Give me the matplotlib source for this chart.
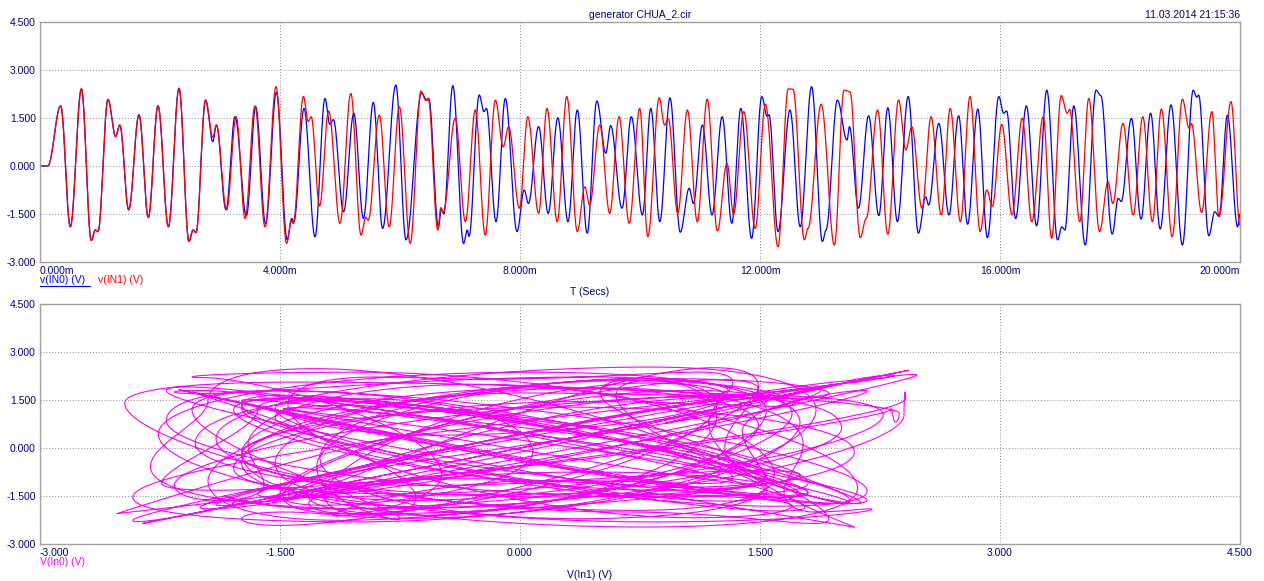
import numpy as np
import matplotlib
matplotlib.use("Agg")
import matplotlib.pyplot as plt

# ---------------------------------------------------------------------------
# Turning points of the two node voltages (time in ms, voltage in V).
# Both nodes follow the same path until ~2.76 ms, then split apart.
# ---------------------------------------------------------------------------
start_t = [0.0, 0.13, 0.345, 0.505, 0.69, 0.855, 0.92, 0.967, 1.133, 1.26,
           1.33, 1.478, 1.65, 1.805, 1.967, 2.14, 2.317, 2.483, 2.55, 2.60, 2.76]
start_v = [0.0, 0.0, 1.88, -1.90, 2.41, -2.33, -2.00, -2.05, 2.08, 0.92,
           1.28, -1.37, 1.60, -1.61, 1.88, -1.90, 2.43, -2.36, -2.00, -2.08, 2.06]

in0_t = [2.88, 2.94, 3.10, 3.25, 3.44, 3.595, 3.76, 3.94, 4.12, 4.195, 4.23,
         4.40, 4.583, 4.75, 4.83, 4.89, 5.06, 5.23, 5.39, 5.555, 5.71, 5.93,
         6.10, 6.36, 6.45, 6.48, 6.64, 6.69, 6.73, 6.88, 7.06, 7.12, 7.15,
         7.32, 7.40, 7.44, 7.60, 7.755, 7.95, 8.07, 8.14, 8.31, 8.47, 8.63,
         8.80, 8.955, 9.12, 9.28, 9.43, 9.51, 9.70, 9.855, 10.04, 10.18,
         10.33, 10.50, 10.67, 10.82, 10.89, 11.04, 11.20, 11.37, 11.53, 11.68,
         11.86, 12.03, 12.12, 12.15, 12.30, 12.50, 12.67, 12.86, 13.04, 13.10,
         13.29, 13.45, 13.49, 13.64, 13.81, 13.98, 14.13, 14.29, 14.47, 14.64,
         14.76, 14.81, 14.98, 15.15, 15.31, 15.46, 15.63, 15.79, 15.98, 16.06,
         16.11, 16.26, 16.44, 16.61, 16.78, 16.96, 17.03, 17.08, 17.23, 17.42,
         17.60, 17.68, 17.87, 17.97, 18.02, 18.19, 18.35, 18.51, 18.67, 18.85,
         19.04, 19.22, 19.28, 19.31, 19.48, 19.58, 19.65, 19.79, 19.96, 20.0]
in0_v = [0.76, 1.28, -1.37, 1.54, -1.55, 1.85, -1.80, 2.30, -2.30, -1.64, -1.75,
         1.80, -2.21, 2.11, 1.30, 1.45, -1.43, 1.65, -1.64, 1.99, -1.95, 2.53,
         -2.31, 2.28, 2.05, 2.10, -1.90, -1.35, -1.50, 2.51, -2.42, -2.00, -2.20,
         2.22, 1.70, 1.80, -1.74, 2.11, -2.05, -0.75, -1.17, 1.23, -1.48, 1.51,
         -1.74, 1.75, -2.10, 2.03, 0.40, 1.26, -1.32, 1.54, -1.53, 1.80,
         -1.74, 2.13, -2.07, -0.70, -1.17, 1.28, -1.53, 1.54, -1.79, 1.80,
         -2.26, 2.17, 1.55, 1.60, -2.05, 1.75, -1.90, 2.48, -2.36, -2.00,
         2.06, 0.81, 1.23, -1.32, 1.57, -1.55, 1.82, -1.74, 2.17, -2.10,
         -0.96, -1.22, 1.33, -1.53, 1.57, -1.82, 1.78, -2.24, 2.17, 1.65,
         1.72, -1.64, 1.88, -1.87, 2.37, -2.31, -1.90, -2.00, 1.88, -2.47,
         2.37, 2.20, -2.13, -1.01, -1.11, 1.49, -1.66, 1.65, -1.97, 1.91,
         -2.47, 2.37, 2.15, 2.22, -2.18, -1.43, -1.58, 1.59, -1.90, -1.50]

in1_t = [2.88, 2.94, 3.11, 3.27, 3.417, 3.583, 3.75, 3.933, 4.11, 4.19, 4.22,
         4.39, 4.47, 4.52, 4.66, 4.81, 5.00, 5.18, 5.35, 5.43, 5.47, 5.655,
         5.82, 5.99, 6.17, 6.35, 6.43, 6.47, 6.63, 6.68, 6.72, 6.92, 7.09,
         7.255, 7.42, 7.59, 7.72, 7.81, 7.99, 8.13, 8.31, 8.45, 8.62, 8.78,
         8.955, 9.08, 9.16, 9.33, 9.495, 9.65, 9.82, 9.995, 10.13, 10.32,
         10.41, 10.47, 10.63, 10.79, 10.955, 11.12, 11.29, 11.45, 11.56, 11.73,
         11.92, 12.09, 12.30, 12.47, 12.55, 12.74, 12.80, 13.02, 13.24, 13.40,
         13.50, 13.67, 13.77, 13.96, 14.13, 14.31, 14.43, 14.53, 14.70, 14.85,
         15.02, 15.17, 15.34, 15.50, 15.67, 15.78, 15.87, 16.03, 16.20, 16.37,
         16.53, 16.72, 16.86, 17.02, 17.12, 17.16, 17.33, 17.48, 17.66, 17.80,
         17.88, 18.05, 18.22, 18.38, 18.54, 18.69, 18.87, 19.04, 19.15, 19.19,
         19.36, 19.53, 19.65, 19.85, 20.0]
in1_v = [0.90, 1.28, -1.37, 1.54, -1.64, 1.88, -1.90, 2.48, -2.42, -1.70, -1.80,
         2.17, 1.39, 1.54, -1.25, 1.72, -1.79, 2.27, -2.16, -1.60, -1.70, 1.59,
         -1.90, 1.85, -2.42, 2.34, 2.05, 2.12, -2.00, -1.30, -1.45, 1.49, -1.74,
         1.75, -2.16, 2.06, 0.60, 1.23, -1.32, 1.54, -1.48, 1.80, -1.74, 2.17,
         -2.05, -0.65, -1.22, 1.28, -1.48, 1.54, -1.79, 1.80, -2.21, 2.13,
         1.28, 1.49, -1.48, 1.75, -1.74, 2.09, -2.03, 0.08, -1.50, 1.70,
         -1.95, 1.93, -2.52, 2.41, 2.40, -2.31, -1.95, 1.93, -2.47, 2.37,
         2.32, -2.24, -1.64, 1.75, -2.13, 2.06, 0.50, 1.23, -1.32, 1.54,
         -1.53, 1.80, -1.74, 2.17, -2.05, -0.75, -1.27, 1.30, -1.53, 1.49,
         -1.74, 1.54, -2.26, 2.20, 1.65, 1.77, -1.74, 2.11, -2.05, -0.49,
         -1.17, 1.33, -1.53, 1.54, -1.74, 1.78, -2.21, 2.09, 1.18, 1.33,
         -1.45, 1.70, -1.58, 2.01, -1.85]

volt_ticks = [-3.0, -1.5, 0.0, 1.5, 3.0, 4.5]
time_ticks = [0.0, 4.0, 8.0, 12.0, 16.0, 20.0]
xy_ticks = [-3.0, -1.5, 0.0, 1.5, 3.0, 4.5]

TEXT = "#000080"
FRAME = "#a0a0a0"
GRID = "#8c8c8c"
BLUE = "#0000ff"
RED = "#ff0000"
MAGENTA = "#ff00ff"


def smooth_trace(tk, vk, t):
    """Smooth oscillation passing through the turning points (tk, vk)."""
    tk = np.asarray(tk, float)
    vk = np.asarray(vk, float)
    i = np.clip(np.searchsorted(tk, t, side="right") - 1, 0, len(tk) - 2)
    f = np.clip((t - tk[i]) / (tk[i + 1] - tk[i]), 0.0, 1.0)
    w = 0.5 - 0.5 * np.cos(np.pi * f)
    return vk[i] + (vk[i + 1] - vk[i]) * w


t = np.linspace(0.0, 20.0, 10001)
v_in0 = smooth_trace(start_t + in0_t, start_v + in0_v, t)
v_in1 = smooth_trace(start_t + in1_t, start_v + in1_v, t)

W, H = 1264, 581
fig = plt.figure(figsize=(W / 100, H / 100), dpi=100)
plt.rcParams["font.family"] = ["Liberation Sans", "DejaVu Sans"]


def px_axes(x0, y0, x1, y1):
    return fig.add_axes([x0 / W, 1 - y1 / H, (x1 - x0) / W, (y1 - y0) / H])


def style(ax):
    for s in ax.spines.values():
        s.set_color(FRAME)
        s.set_linewidth(1.0)
    ax.tick_params(length=0, labelsize=7.5, colors=TEXT, pad=3)
    ax.grid(True, color=GRID, linestyle=(0, (1, 2)), linewidth=0.7)
    ax.set_axisbelow(True)


def ftext(px, py, s, **kw):
    fig.text(px / W, 1 - py / H, s, fontsize=7.5, **kw)


# ---- time domain -----------------------------------------------------------
ax1 = px_axes(40, 22, 1240, 262)
ax1.plot(t, v_in0, color=BLUE, lw=0.9)
ax1.plot(t, v_in1, color=RED, lw=0.9)
ax1.set_xlim(0, 20)
ax1.set_ylim(-3.0, 4.5)
ax1.set_xticks(time_ticks)
ax1.set_xticklabels([f"{v:.3f}m" for v in time_ticks])
ax1.set_yticks(volt_ticks)
ax1.set_yticklabels([f"{v:.3f}" for v in volt_ticks])
style(ax1)
xl = ax1.get_xticklabels()
xl[0].set_ha("left")
xl[-1].set_ha("right")

# ---- phase portrait --------------------------------------------------------
ax2 = px_axes(40, 304, 1240, 544)
ax2.plot(v_in1, v_in0, color=MAGENTA, lw=0.8)
ax2.set_xlim(-3.0, 4.5)
ax2.set_ylim(-3.0, 4.5)
ax2.set_xticks(xy_ticks)
ax2.set_xticklabels([f"{v:.3f}" for v in xy_ticks])
ax2.set_yticks(volt_ticks)
ax2.set_yticklabels([f"{v:.3f}" for v in volt_ticks])
style(ax2)
ax2.get_xticklabels()[0].set_ha("left")

# ---- captions --------------------------------------------------------------
ftext(640, 15, "generator CHUA_2.cir", color=TEXT, ha="center", va="center")
ftext(1240, 15, "11.03.2014 21:15:36", color=TEXT, ha="right", va="center")
ftext(40, 280, "v(IN0) (V)", color=BLUE, ha="left", va="center")
fig.add_artist(plt.Line2D([40 / W, 90 / W], [1 - 286 / H, 1 - 286 / H],
                          color=BLUE, lw=0.8))
ftext(98, 280, "v(IN1) (V)", color=RED, ha="left", va="center")
ftext(590, 292, "T (Secs)", color=TEXT, ha="center", va="center")
ftext(40, 562, "V(In0) (V)", color=MAGENTA, ha="left", va="center")
ftext(590, 575, "V(In1) (V)", color=TEXT, ha="center", va="center")

fig.savefig("out.png", dpi=100, facecolor="white")
